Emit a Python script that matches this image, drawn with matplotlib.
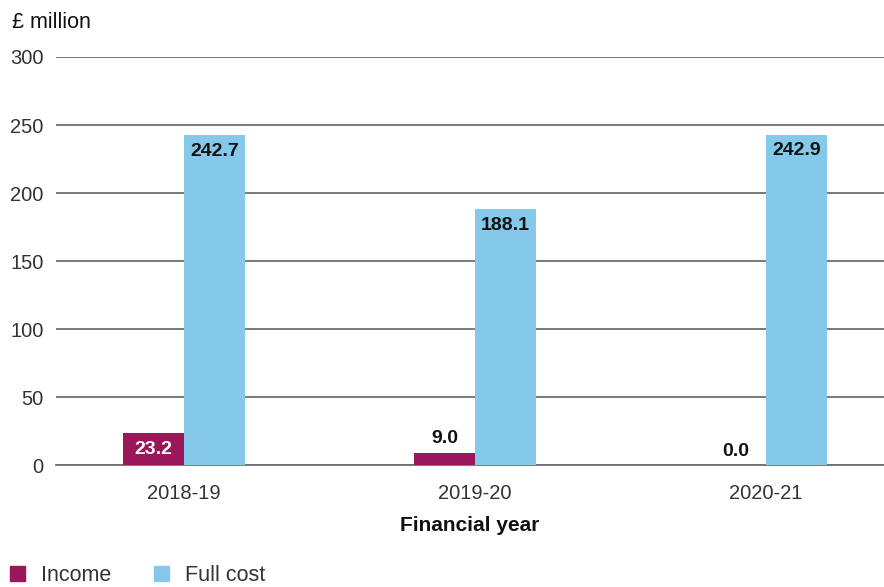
import numpy as np
import matplotlib.pyplot as plt
from matplotlib.patches import Patch

plt.rcParams['font.family'] = ['Liberation Sans', 'DejaVu Sans']

years = ["2018-19", "2019-20", "2020-21"]
income = [23.2, 9.0, 0.0]
full_cost = [242.7, 188.1, 242.9]

c_income = "#99175a"
c_cost = "#85c9ea"

fig = plt.figure(figsize=(8.84, 5.87), dpi=100)
ax = fig.add_axes([0.0633, 0.2078, 0.9367, 0.6951])

x = np.arange(len(years))
w = 0.21
b1 = ax.bar(x - w / 2, income, w, color=c_income, zorder=3)
b2 = ax.bar(x + w / 2, full_cost, w, color=c_cost, zorder=3)

def label(bars, vals, inside_color):
    for rect, v in zip(bars, vals):
        cx = rect.get_x() + rect.get_width() / 2
        if v > 15:
            ax.text(cx, v - 12, f"{v:.1f}", ha="center", va="center",
                    fontsize=14, fontweight="bold", color=inside_color, zorder=4)
        else:
            ax.text(cx, v + 4, f"{v:.1f}", ha="center", va="bottom",
                    fontsize=14, fontweight="bold", color="#111111", zorder=4)

label(b1, income, "white")
label(b2, full_cost, "#111111")

ax.set_ylim(0, 300)
ax.set_yticks(range(0, 301, 50))
ax.set_xlim(-0.44, 2.405)
ax.set_xticks(x)
ax.set_xticklabels(years)
ax.yaxis.grid(True, color="#707070", linewidth=1.3, zorder=0)
for s in ["top", "right", "left"]:
    ax.spines[s].set_visible(False)
ax.spines["bottom"].set_color("#707070")
ax.spines["bottom"].set_linewidth(1.3)
ax.tick_params(axis="both", length=0, labelsize=14.5, colors="#333333")
ax.tick_params(axis="y", pad=9)
ax.tick_params(axis="x", pad=14)

fig.text(12 / 884, 1 - 23 / 587, "£ million", fontsize=15.5, color="#111111",
         ha="left", va="center")
ax.set_xlabel("Financial year", fontsize=15, fontweight="semibold",
              color="#111111", labelpad=9)

handles = [Patch(color=c_income, label="Income"),
           Patch(color=c_cost, label="Full cost")]
fig.legend(handles=handles, loc="lower left", bbox_to_anchor=(-0.011, -0.031),
           ncol=2, frameon=False, fontsize=15.5, handlelength=0.72,
           handleheight=0.72, handletextpad=0.75, columnspacing=1.95,
           labelcolor="#333333")

fig.savefig("out.png", dpi=100)
